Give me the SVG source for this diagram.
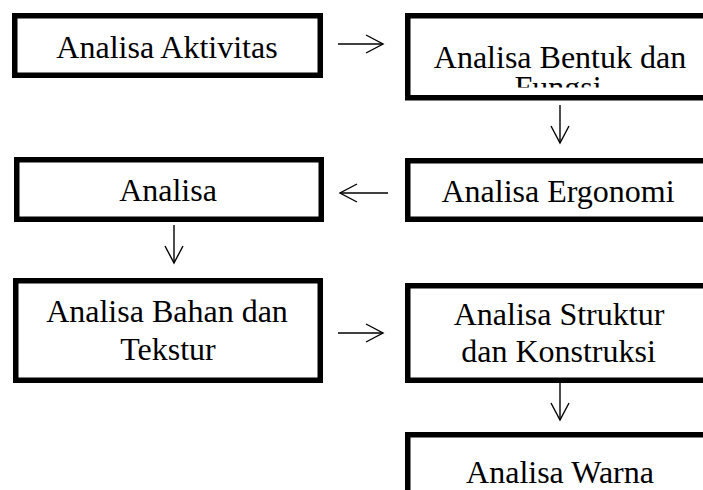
<svg xmlns="http://www.w3.org/2000/svg" width="703" height="490" viewBox="0 0 703 490">
  <style>
    .box { fill: #ffffff; stroke: #000000; stroke-width: 5.5; }
    .lbl { font-family: "Liberation Serif", "Times New Roman", serif; font-size: 32px; fill: #000000; text-anchor: middle; }
    .conn { stroke: #000000; stroke-width: 1.4; fill: none; marker-end: url(#arr); }
  </style>
  <defs>
    <marker id="arr" markerUnits="userSpaceOnUse" markerWidth="24" markerHeight="24" viewBox="-20 -12 24 24" refX="0" refY="0" orient="auto" overflow="visible">
      <path d="M-17,-9 L0,0 L-17,9" fill="none" stroke="#000000" stroke-width="1.4"/>
    </marker>
    <clipPath id="clipBentuk">
      <rect x="408" y="16" width="300" height="71.5"/>
    </clipPath>
  </defs>
  <rect x="0" y="0" width="703" height="490" fill="#ffffff"/>

  <g id="connectors">
    <line class="conn" x1="338" y1="44" x2="383" y2="44"/>
    <line class="conn" x1="560" y1="105" x2="560" y2="143"/>
    <line class="conn" x1="388" y1="193" x2="340" y2="193"/>
    <line class="conn" x1="174" y1="225" x2="174" y2="263"/>
    <line class="conn" x1="338" y1="333" x2="383" y2="333"/>
    <line class="conn" x1="560" y1="383" x2="560" y2="420"/>
  </g>

  <g id="node-aktivitas">
    <rect class="box" x="14.75" y="15.75" width="305.5" height="59.5"/>
    <text class="lbl" x="167" y="58">Analisa Aktivitas</text>
  </g>

  <g id="node-bentuk">
    <rect class="box" x="407.75" y="15.75" width="330" height="82"/>
    <g clip-path="url(#clipBentuk)">
      <text class="lbl" x="560" y="68">Analisa Bentuk dan</text>
      <text class="lbl" x="558" y="98">Fungsi</text>
    </g>
  </g>

  <g id="node-analisa">
    <rect class="box" x="16.75" y="159.75" width="304.5" height="59.5"/>
    <text class="lbl" x="168" y="201">Analisa</text>
  </g>

  <g id="node-ergonomi">
    <rect class="box" x="407.75" y="160.75" width="330" height="58.5"/>
    <text class="lbl" x="558" y="202">Analisa Ergonomi</text>
  </g>

  <g id="node-bahan">
    <rect class="box" x="15.75" y="280.75" width="304.5" height="99.5"/>
    <text class="lbl" x="167" y="322">Analisa Bahan dan</text>
    <text class="lbl" x="168" y="360">Tekstur</text>
  </g>

  <g id="node-struktur">
    <rect class="box" x="407.75" y="285.75" width="330" height="94.5"/>
    <text class="lbl" x="559" y="325">Analisa Struktur</text>
    <text class="lbl" x="558.5" y="362">dan Konstruksi</text>
  </g>

  <g id="node-warna">
    <rect class="box" x="407.75" y="434.75" width="330" height="90"/>
    <text class="lbl" x="560" y="483">Analisa Warna</text>
  </g>
</svg>
